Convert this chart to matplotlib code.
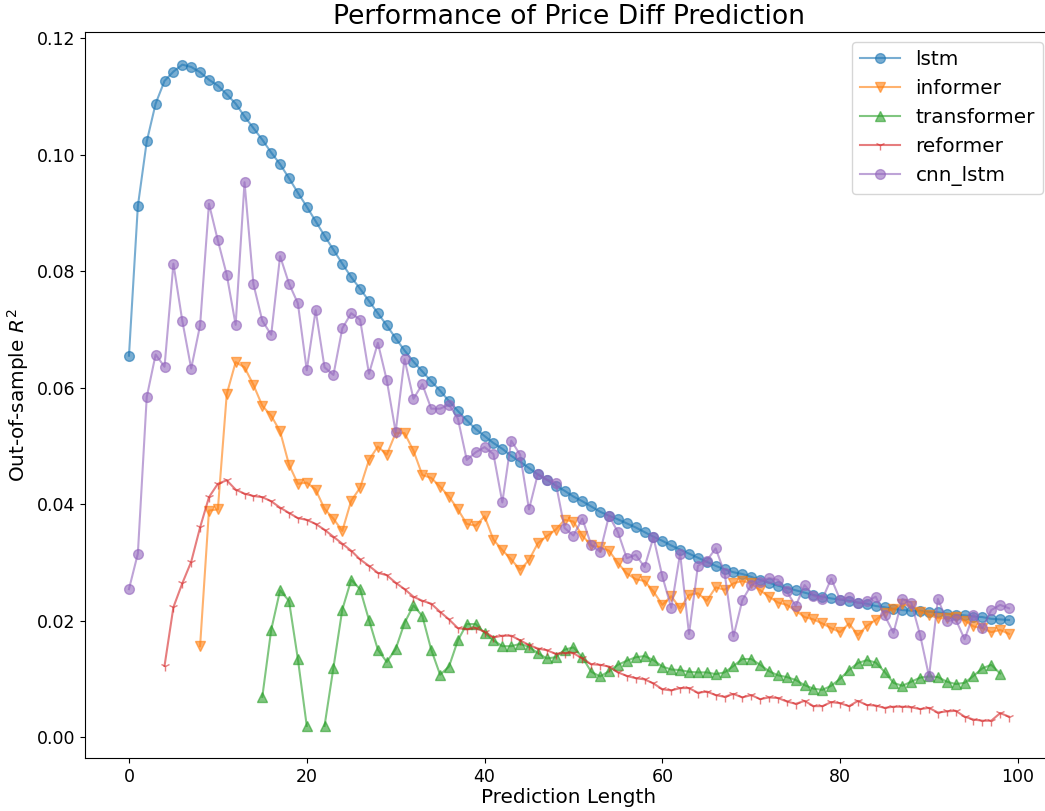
import numpy as np
import matplotlib
matplotlib.use("Agg")
import matplotlib.pyplot as plt

nan = np.nan

# prediction length 0..99
steps = list(range(100))

lstm = [0.0655, 0.0912, 0.1023, 0.1088, 0.1127, 0.1143, 0.1155, 0.1151, 0.1142, 0.1129,
        0.1119, 0.1104, 0.1088, 0.1066, 0.1046, 0.1026, 0.1004, 0.0984, 0.0960, 0.0935,
        0.0911, 0.0886, 0.0861, 0.0837, 0.0813, 0.0790, 0.0770, 0.0749, 0.0728, 0.0707,
        0.0685, 0.0664, 0.0645, 0.0628, 0.0611, 0.0595, 0.0577, 0.0560, 0.0544, 0.0529,
        0.0517, 0.0505, 0.0495, 0.0483, 0.0473, 0.0462, 0.0451, 0.0442, 0.0432, 0.0423,
        0.0413, 0.0405, 0.0396, 0.0387, 0.0380, 0.0374, 0.0367, 0.0360, 0.0352, 0.0344,
        0.0337, 0.0329, 0.0322, 0.0315, 0.0308, 0.0301, 0.0294, 0.0288, 0.0283, 0.0280,
        0.0275, 0.0270, 0.0265, 0.0260, 0.0256, 0.0252, 0.0248, 0.0244, 0.0241, 0.0238,
        0.0236, 0.0234, 0.0231, 0.0229, 0.0225, 0.0223, 0.0220, 0.0218, 0.0217, 0.0217,
        0.0215, 0.0214, 0.0212, 0.0210, 0.0209, 0.0207, 0.0206, 0.0203, 0.0202, 0.0201]

informer = [nan] * 8 + [
        0.0156, 0.0389, 0.0391, 0.0589, 0.0644, 0.0635, 0.0605, 0.0569, 0.0552, 0.0525,
        0.0468, 0.0435, 0.0437, 0.0425, 0.0392, 0.0375, 0.0354, 0.0406, 0.0428, 0.0476,
        0.0499, 0.0485, 0.0522, 0.0522, 0.0492, 0.0450, 0.0445, 0.0430, 0.0413, 0.0391,
        0.0366, 0.0363, 0.0379, 0.0339, 0.0321, 0.0305, 0.0287, 0.0304, 0.0333, 0.0345,
        0.0356, 0.0373, 0.0370, 0.0346, 0.0329, 0.0326, 0.0320, 0.0299, 0.0281, 0.0271,
        0.0268, 0.0250, 0.0227, 0.0242, 0.0221, 0.0244, 0.0247, 0.0234, 0.0257, 0.0253,
        0.0264, 0.0268, 0.0264, 0.0252, 0.0241, 0.0231, 0.0227, 0.0217, 0.0206, 0.0202,
        0.0195, 0.0187, 0.0180, 0.0195, 0.0175, 0.0191, 0.0201, 0.0213, 0.0220, 0.0228,
        0.0225, 0.0215, 0.0210, 0.0204, 0.0204, 0.0207, 0.0200, 0.0190, 0.0187, 0.0180,
        0.0184, 0.0177]

transformer = [nan] * 15 + [
        0.0069, 0.0184, 0.0252, 0.0234, 0.0134, 0.0019, nan, 0.0019, 0.0119, 0.0219,
        0.0270, 0.0254, 0.0201, 0.0150, 0.0129, 0.0151, 0.0196, 0.0226, 0.0208, 0.0150,
        0.0107, 0.0121, 0.0166, 0.0194, 0.0194, 0.0179, 0.0166, 0.0156, 0.0156, 0.0160,
        0.0155, 0.0144, 0.0135, 0.0137, 0.0150, 0.0154, 0.0137, 0.0112, 0.0104, 0.0113,
        0.0124, 0.0131, 0.0137, 0.0139, 0.0132, 0.0121, 0.0116, 0.0115, 0.0112, 0.0111,
        0.0111, 0.0108, 0.0111, 0.0122, 0.0134, 0.0134, 0.0124, 0.0113, 0.0106, 0.0103,
        0.0098, 0.0089, 0.0083, 0.0081, 0.0088, 0.0100, 0.0115, 0.0127, 0.0132, 0.0128,
        0.0112, 0.0093, 0.0088, 0.0095, 0.0102, 0.0104, 0.0103, 0.0095, 0.0091, 0.0093,
        0.0105, 0.0118, 0.0124, 0.0109, nan]

reformer = [nan] * 4 + [
        0.0122, 0.0223, 0.0264, 0.0301, 0.0360, 0.0412, 0.0435, 0.0441, 0.0425, 0.0418,
        0.0414, 0.0412, 0.0405, 0.0394, 0.0385, 0.0376, 0.0373, 0.0366, 0.0356, 0.0344,
        0.0332, 0.0320, 0.0305, 0.0294, 0.0282, 0.0278, 0.0265, 0.0254, 0.0241, 0.0234,
        0.0229, 0.0215, 0.0202, 0.0187, 0.0185, 0.0187, 0.0181, 0.0171, 0.0174, 0.0174,
        0.0166, 0.0158, 0.0152, 0.0149, 0.0143, 0.0144, 0.0144, 0.0135, 0.0125, 0.0124,
        0.0121, 0.0111, 0.0105, 0.0101, 0.0099, 0.0092, 0.0082, 0.0080, 0.0084, 0.0084,
        0.0076, 0.0078, 0.0072, 0.0069, 0.0074, 0.0068, 0.0072, 0.0065, 0.0068, 0.0067,
        0.0061, 0.0057, 0.0062, 0.0053, 0.0053, 0.0060, 0.0058, 0.0053, 0.0062, 0.0055,
        0.0054, 0.0050, 0.0052, 0.0052, 0.0051, 0.0048, 0.0050, 0.0042, 0.0044, 0.0045,
        0.0035, 0.0030, 0.0028, 0.0028, 0.0041, 0.0035]

cnn_lstm = [0.0254, 0.0315, 0.0584, 0.0657, 0.0636, 0.0813, 0.0715, 0.0633, 0.0707, 0.0916,
            0.0853, 0.0794, 0.0708, 0.0953, 0.0778, 0.0715, 0.0691, 0.0826, 0.0779, 0.0745,
            0.0630, 0.0733, 0.0635, 0.0622, 0.0702, 0.0728, 0.0717, 0.0624, 0.0677, 0.0613,
            0.0524, 0.0649, 0.0581, 0.0606, 0.0564, 0.0564, 0.0571, 0.0547, 0.0476, 0.0489,
            0.0498, 0.0486, 0.0403, 0.0509, 0.0485, 0.0391, 0.0452, 0.0442, 0.0437, 0.0359,
            0.0346, 0.0375, 0.0330, 0.0318, 0.0380, 0.0352, 0.0307, 0.0313, 0.0292, 0.0343,
            0.0276, 0.0222, 0.0315, 0.0177, 0.0294, 0.0303, 0.0324, 0.0282, 0.0173, 0.0235,
            0.0261, 0.0267, 0.0273, 0.0270, 0.0250, 0.0225, 0.0261, 0.0243, 0.0237, 0.0272,
            0.0236, 0.0240, 0.0230, 0.0233, 0.0241, 0.0209, 0.0179, 0.0237, 0.0231, 0.0175,
            0.0104, 0.0237, 0.0199, 0.0202, 0.0168, 0.0210, 0.0187, 0.0218, 0.0227, 0.0221]

series = [
    ("lstm", lstm, "o"),
    ("informer", informer, "v"),
    ("transformer", transformer, "^"),
    ("reformer", reformer, "1"),
    ("cnn_lstm", cnn_lstm, "o"),
]

fig, ax = plt.subplots(figsize=(10.45, 8.11), dpi=100)
# the original picture is cropped on the right, the axes run past the edge
fig.subplots_adjust(left=0.0813, right=1.0077, top=0.9605, bottom=0.0654)

for name, vals, mk in series:
    ax.plot(steps, vals, marker=mk, markersize=7, alpha=0.6, linewidth=1.5, label=name)

ax.set_xlim(-4.95, 103.95)
ax.set_ylim(-0.0036, 0.1211)

ax.set_title("Performance of Price Diff Prediction", fontsize=19.2)
ax.set_xlabel("Prediction Length", fontsize=14.4, labelpad=2)
ax.set_ylabel("Out-of-sample $R^2$", fontsize=14.4)
ax.tick_params(labelsize=12.5)
ax.legend(loc="upper right", fontsize=14.4)

plt.savefig("out.png")
